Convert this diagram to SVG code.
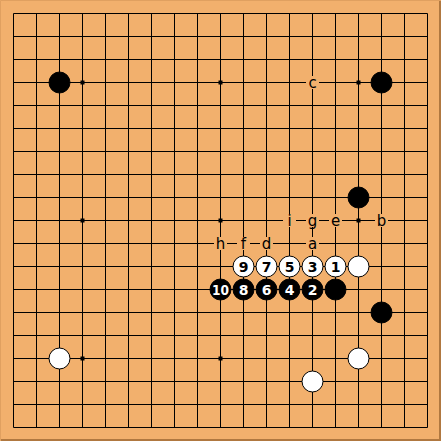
<svg xmlns="http://www.w3.org/2000/svg" width="441" height="441" viewBox="0 0 441 441">
<style>
.grid{stroke:#000;stroke-width:1;fill:none}
.b{fill:#000;stroke:#000;stroke-width:1}
.w{fill:#fff;stroke:#000;stroke-width:1}
.star{fill:#000}
.lbl{font-family:"DejaVu Sans",sans-serif;font-size:15px;text-anchor:middle;fill:#000}
.nb{font-family:"DejaVu Sans",sans-serif;font-size:14px;font-weight:bold;text-anchor:middle;fill:#fff}
.nw{font-family:"DejaVu Sans",sans-serif;font-size:14px;font-weight:bold;text-anchor:middle;fill:#000}
.bg{fill:#F2B06D}
</style>
<rect x="0" y="0" width="441" height="441" fill="#F2B06D"/>
<path d="M0.5 440.5V0.5H440.5" stroke="#E0A060" stroke-width="1" fill="none"/>
<path d="M1 440H440V1" stroke="#B07840" stroke-width="2" fill="none"/>
<g id="grid">
<path class="grid" d="M13.5 13.5V427.5M36.5 13.5V427.5M59.5 13.5V427.5M82.5 13.5V427.5M105.5 13.5V427.5M128.5 13.5V427.5M151.5 13.5V427.5M174.5 13.5V427.5M197.5 13.5V427.5M220.5 13.5V427.5M243.5 13.5V427.5M266.5 13.5V427.5M289.5 13.5V427.5M312.5 13.5V427.5M335.5 13.5V427.5M358.5 13.5V427.5M381.5 13.5V427.5M404.5 13.5V427.5M427.5 13.5V427.5M13.5 13.5H427.5M13.5 36.5H427.5M13.5 59.5H427.5M13.5 82.5H427.5M13.5 105.5H427.5M13.5 128.5H427.5M13.5 151.5H427.5M13.5 174.5H427.5M13.5 197.5H427.5M13.5 220.5H427.5M13.5 243.5H427.5M13.5 266.5H427.5M13.5 289.5H427.5M13.5 312.5H427.5M13.5 335.5H427.5M13.5 358.5H427.5M13.5 381.5H427.5M13.5 404.5H427.5M13.5 427.5H427.5"/>
<rect class="star" x="80.5" y="80.5" width="4" height="4"/>
<rect class="star" x="218.5" y="80.5" width="4" height="4"/>
<rect class="star" x="356.5" y="80.5" width="4" height="4"/>
<rect class="star" x="80.5" y="218.5" width="4" height="4"/>
<rect class="star" x="218.5" y="218.5" width="4" height="4"/>
<rect class="star" x="356.5" y="218.5" width="4" height="4"/>
<rect class="star" x="80.5" y="356.5" width="4" height="4"/>
<rect class="star" x="218.5" y="356.5" width="4" height="4"/>
<rect class="star" x="356.5" y="356.5" width="4" height="4"/>
</g>
<g id="labels">
<g id="lc"><rect class="bg" x="306" y="76" width="13" height="13"/><text class="lbl" x="312.5" y="87.5">c</text></g>
<g id="li"><rect class="bg" x="283" y="214" width="13" height="13"/><text class="lbl" x="289.5" y="225.5">i</text></g>
<g id="lg"><rect class="bg" x="306" y="214" width="13" height="13"/><text class="lbl" x="312.5" y="225.5">g</text></g>
<g id="le"><rect class="bg" x="329" y="214" width="13" height="13"/><text class="lbl" x="335.5" y="225.5">e</text></g>
<g id="lb"><rect class="bg" x="375" y="214" width="13" height="13"/><text class="lbl" x="381.5" y="225.5">b</text></g>
<g id="lh"><rect class="bg" x="214" y="237" width="13" height="13"/><text class="lbl" x="220.5" y="248.5">h</text></g>
<g id="lf"><rect class="bg" x="237" y="237" width="13" height="13"/><text class="lbl" x="243.5" y="248.5">f</text></g>
<g id="ld"><rect class="bg" x="260" y="237" width="13" height="13"/><text class="lbl" x="266.5" y="248.5">d</text></g>
<g id="la"><rect class="bg" x="306" y="237" width="13" height="13"/><text class="lbl" x="312.5" y="248.5">a</text></g>
</g>
<g id="stones">
<circle class="b" cx="59.5" cy="82.5" r="10.5"/>
<circle class="b" cx="381.5" cy="82.5" r="10.5"/>
<circle class="b" cx="358.5" cy="197.5" r="10.5"/>
<circle class="b" cx="335.5" cy="289.5" r="10.5"/>
<circle class="b" cx="381.5" cy="312.5" r="10.5"/>
<circle class="w" cx="358.5" cy="266.5" r="10.5"/>
<circle class="w" cx="59.5" cy="358.5" r="10.5"/>
<circle class="w" cx="358.5" cy="358.5" r="10.5"/>
<circle class="w" cx="312.5" cy="381.5" r="10.5"/>
<g id="m1"><circle class="w" cx="335.5" cy="266.5" r="10.5"/><text class="nw" x="335.5" y="271.5">1</text></g>
<g id="m2"><circle class="b" cx="312.5" cy="289.5" r="10.5"/><text class="nb" x="312.5" y="294.5">2</text></g>
<g id="m3"><circle class="w" cx="312.5" cy="266.5" r="10.5"/><text class="nw" x="312.5" y="271.5">3</text></g>
<g id="m4"><circle class="b" cx="289.5" cy="289.5" r="10.5"/><text class="nb" x="289.5" y="294.5">4</text></g>
<g id="m5"><circle class="w" cx="289.5" cy="266.5" r="10.5"/><text class="nw" x="289.5" y="271.5">5</text></g>
<g id="m6"><circle class="b" cx="266.5" cy="289.5" r="10.5"/><text class="nb" x="266.5" y="294.5">6</text></g>
<g id="m7"><circle class="w" cx="266.5" cy="266.5" r="10.5"/><text class="nw" x="266.5" y="271.5">7</text></g>
<g id="m8"><circle class="b" cx="243.5" cy="289.5" r="10.5"/><text class="nb" x="243.5" y="294.5">8</text></g>
<g id="m9"><circle class="w" cx="243.5" cy="266.5" r="10.5"/><text class="nw" x="243.5" y="271.5">9</text></g>
<g id="m10"><circle class="b" cx="220.5" cy="289.5" r="10.5"/><text class="nb" x="220.5" y="294.5" textLength="17" lengthAdjust="spacingAndGlyphs">10</text></g>
</g>
</svg>
